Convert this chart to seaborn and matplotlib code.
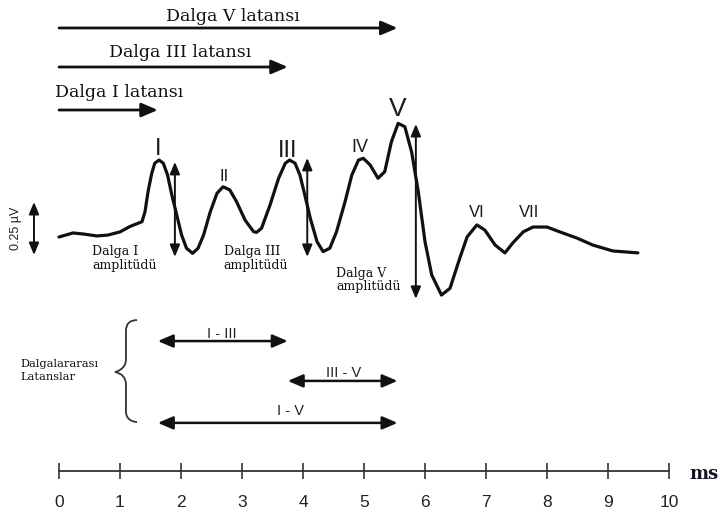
import matplotlib
matplotlib.use("Agg")
import matplotlib.pyplot as plt
from matplotlib.path import Path
from matplotlib.patches import PathPatch
import seaborn as sns
import pandas as pd

# ABR waveform: time (ms) and amplitude (µV)
wave_ms = [0.00, 0.23, 0.40, 0.62, 0.80, 1.00, 1.16, 1.36, 1.41, 1.46, 1.52, 1.57,
           1.64, 1.71, 1.78, 1.85, 1.93, 2.01, 2.09, 2.19, 2.28, 2.37, 2.48, 2.59,
           2.69, 2.80, 2.91, 3.05, 3.19, 3.24, 3.32, 3.46, 3.60, 3.71, 3.78, 3.87,
           3.95, 4.03, 4.12, 4.23, 4.33, 4.44, 4.55, 4.69, 4.80, 4.91, 4.99, 5.10,
           5.23, 5.34, 5.45, 5.56, 5.67, 5.78, 5.89, 6.00, 6.11, 6.27, 6.41, 6.57,
           6.69, 6.85, 6.98, 7.15, 7.31, 7.44, 7.61, 7.77, 8.00, 8.21, 8.49, 8.75,
           9.08, 9.49]
wave_uv = [0.000, 0.019, 0.014, 0.005, 0.009, 0.024, 0.049, 0.072, 0.119, 0.214, 0.300, 0.348,
           0.363, 0.348, 0.292, 0.198, 0.104, 0.009, -0.053, -0.077, -0.053, 0.009, 0.119, 0.206,
           0.237, 0.222, 0.167, 0.080, 0.025, 0.022, 0.041, 0.151, 0.277, 0.348, 0.363, 0.348,
           0.292, 0.198, 0.088, -0.022, -0.069, -0.053, 0.025, 0.167, 0.292, 0.363, 0.371, 0.340,
           0.277, 0.308, 0.450, 0.536, 0.520, 0.402, 0.214, -0.022, -0.179, -0.274, -0.242, -0.100,
           0.000, 0.057, 0.033, -0.038, -0.075, -0.028, 0.024, 0.047, 0.047, 0.024, -0.005, -0.038,
           -0.066, -0.075]

# Wave labels (roman numerals) with their peak positions
wave_names = ["I", "II", "III", "IV", "V", "VI", "VII"]
wave_name_ms = [1.62, 2.70, 3.75, 4.93, 5.56, 6.85, 7.70]
wave_name_uv = [0.387, 0.264, 0.377, 0.400, 0.571, 0.094, 0.094]
wave_name_size = [17, 12, 17, 13, 19, 12, 12]

# Absolute latencies of waves I, III and V (ms)
latency_names = ["Dalga I latansı", "Dalga III latansı", "Dalga V latansı"]
latency_ms = [1.62, 3.75, 5.55]

# Amplitude measurements: x position, top and bottom (µV)
amp_names = ["Dalga I\namplitüdü", "Dalga III\namplitüdü", "Dalga V\namplitüdü"]
amp_x = [1.90, 4.07, 5.85]
amp_top = [0.354, 0.373, 0.533]
amp_bottom = [-0.094, -0.094, -0.292]

# Interpeak latencies
interpeak_names = ["I - III", "III - V", "I - V"]
interpeak_start = [1.62, 3.75, 1.62]
interpeak_end = [3.75, 5.55, 5.55]

time_ticks = list(range(0, 11))

sns.set_style("white")
plt.rcParams["font.family"] = ["Liberation Sans", "DejaVu Sans"]

fig = plt.figure(figsize=(7.2, 5.17), dpi=100)
ax = fig.add_axes([0, 0, 1, 1])

df = pd.DataFrame({"ms": wave_ms, "uv": wave_uv})
sns.lineplot(data=df, x="ms", y="uv", ax=ax, color="#111111", lw=2.3, sort=False,
             solid_joinstyle="round", solid_capstyle="round")

ax.set_xlim(-0.967, 10.836)
ax.set_ylim(-1.321, 1.118)
ax.set_xlabel("")
ax.set_ylabel("")

ink = "#111111"
serif = ["DejaVu Serif"]

# Time axis drawn as the bottom spine
for s in ["left", "right", "top"]:
    ax.spines[s].set_visible(False)
ax.spines["bottom"].set_position(("data", -1.104))
ax.spines["bottom"].set_bounds(0, 10)
ax.spines["bottom"].set_color("#333333")
ax.spines["bottom"].set_linewidth(1.3)
ax.set_xticks(time_ticks)
ax.set_xticklabels([str(t) for t in time_ticks])
ax.set_yticks([])
ax.tick_params(axis="x", bottom=True, direction="inout", length=11, width=1.2,
               color="#333333", labelsize=12.5, labelcolor="#222222", pad=12)
ax.text(10.34, -1.142, "ms", family=serif, fontweight="bold", fontsize=13,
        color="#14142a", ha="left", va="baseline")

# Roman numeral labels over the peaks
for name, x, y, fs in zip(wave_names, wave_name_ms, wave_name_uv, wave_name_size):
    ax.text(x, y, name, ha="center", va="baseline", fontsize=fs, color="#1a1a1a")

# Absolute latency arrows from stimulus onset
lat_y = [0.599, 0.802, 0.986]
lat_text = [(-0.07, 0.660, "left"), (1.98, 0.849, "center"), (2.85, 1.019, "center")]
for name, end, y, (tx, ty, ha) in zip(latency_names, latency_ms, lat_y, lat_text):
    ax.annotate("", xy=(end, y), xytext=(0.0, y),
                arrowprops=dict(arrowstyle="-|>,head_length=0.7,head_width=0.3",
                                lw=2.0, color=ink, shrinkA=0, shrinkB=0, mutation_scale=14))
    ax.text(tx, ty, name, family=serif, fontsize=12.5, color=ink, ha=ha, va="baseline")

# Amplitude arrows (peak to following trough)
amp_text = [(0.54, -0.040), (2.70, -0.040), (4.54, -0.140)]
for name, x, top, bot, (tx, ty) in zip(amp_names, amp_x, amp_top, amp_bottom, amp_text):
    ax.annotate("", xy=(x, top), xytext=(x, bot),
                arrowprops=dict(arrowstyle="<|-|>,head_length=0.6,head_width=0.25",
                                lw=1.4, color=ink, shrinkA=0, shrinkB=0, mutation_scale=12))
    ax.text(tx, ty, name, family=serif, fontsize=9, color=ink, ha="left", va="top",
            linespacing=1.05)

# 0.25 µV calibration bar
ax.annotate("", xy=(-0.41, 0.165), xytext=(-0.41, -0.085),
            arrowprops=dict(arrowstyle="<|-|>,head_length=0.6,head_width=0.25",
                            lw=1.4, color=ink, shrinkA=0, shrinkB=0, mutation_scale=12))
ax.text(-0.705, 0.04, "0.25 µV", rotation=90, ha="center", va="center",
        fontsize=9, color="#222222")

# Interpeak latency arrows
ip_y = [-0.491, -0.679, -0.877]
ip_text_x = [2.67, 4.67, 3.80]
ip_text_y = [-0.476, -0.660, -0.840]
for name, s, e, y, tx, ty in zip(interpeak_names, interpeak_start, interpeak_end,
                                 ip_y, ip_text_x, ip_text_y):
    ax.annotate("", xy=(e, y), xytext=(s, y),
                arrowprops=dict(arrowstyle="<|-|>,head_length=0.7,head_width=0.3",
                                lw=1.8, color=ink, shrinkA=0, shrinkB=0, mutation_scale=13))
    ax.text(tx, ty, name, ha="center", va="baseline", fontsize=10.5, color="#222222")

# Curly brace grouping the interpeak latencies
bx_l, bx_m, bx_r = 0.918, 1.098, 1.279
by_t, by_c, by_b = -0.392, -0.637, -0.873
verts = [
    (bx_r, by_t), (bx_m, by_t), (bx_m, by_t - 0.05),
    (bx_m, by_c + 0.06),
    (bx_m, by_c + 0.01), (bx_l, by_c), (bx_l, by_c),
    (bx_m, by_c - 0.01), (bx_m, by_c - 0.06),
    (bx_m, by_b + 0.05),
    (bx_m, by_b), (bx_r, by_b), (bx_r, by_b),
]
codes = [Path.MOVETO, Path.CURVE3, Path.CURVE3,
         Path.LINETO,
         Path.CURVE4, Path.CURVE4, Path.CURVE4,
         Path.CURVE3, Path.CURVE3,
         Path.LINETO,
         Path.CURVE4, Path.CURVE4, Path.CURVE4]
ax.add_patch(PathPatch(Path(verts, codes), fill=False, lw=1.3, color="#333333"))

ax.text(-0.64, -0.575, "Dalgalararası\nLatanslar", family=serif, fontsize=8.2,
        color=ink, ha="left", va="top", linespacing=1.35)

fig.savefig("out.png", dpi=100)
